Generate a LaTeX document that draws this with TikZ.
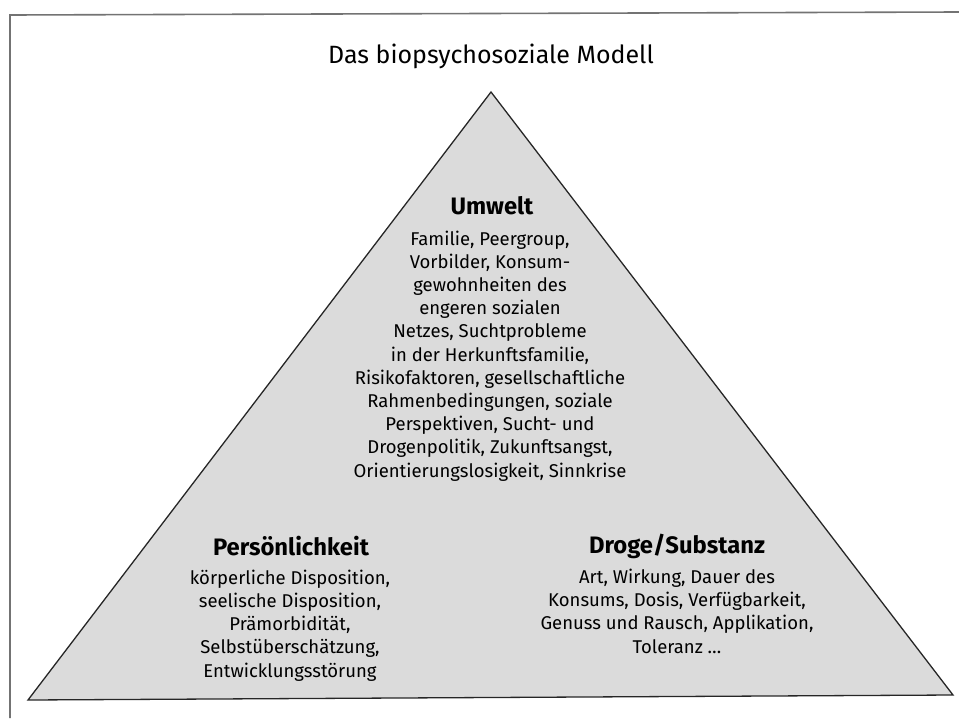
\documentclass[tikz,border=0pt]{standalone}
\usepackage{fontspec}
\setmainfont{Fira Sans}
\begin{document}
\begin{tikzpicture}[x=1pt,y=-1pt,
  frameline/.style={draw=black!55,line width=1.6pt},
  pyramid/.style={draw=black!85,line width=1.3pt,fill=black!14,line join=miter},
  titletext/.style={font=\fontsize{25}{30}\selectfont,anchor=base,inner sep=0pt},
  headtext/.style={font=\fontsize{23.8}{28}\selectfont\bfseries,anchor=base,inner sep=0pt},
  bodytext/.style={font=\fontsize{18.5}{23.2}\selectfont,align=center,anchor=base,inner sep=0pt}]
\useasboundingbox (0,0) rectangle (959,718);
% frame (left and top)
\coordinate (fbl) at (10,718);
\coordinate (ftl) at (10,15);
\coordinate (ftr) at (959,12);
\draw[frameline] (fbl) -- (ftl) -- (ftr);
% pyramid
\coordinate (apex) at (491,92);
\coordinate (bl) at (28,700);
\coordinate (br) at (953,695);
\draw[pyramid] (apex) -- (br) -- (bl) -- cycle;
% title
\node[titletext] (title) at (491,63) {Das biopsychosoziale Modell};
% Umwelt (body anchored at the baseline of its last line)
\node[headtext] (uh) at (492,214) {Umwelt};
\node[bodytext] (ub) at (490,477) {Familie, Peergroup,\\Vorbilder, Konsum-\\gewohnheiten des\\engeren sozialen\\Netzes, Suchtprobleme\\in der Herkunftsfamilie,\\Risikofaktoren, gesellschaftliche\\Rahmenbedingungen, soziale\\Perspektiven, Sucht- und\\Drogenpolitik, Zukunftsangst,\\Orientierungslosigkeit, Sinnkrise};
% Persoenlichkeit
\node[headtext] (ph) at (291,555) {Persönlichkeit};
\node[bodytext] (pb) at (290,677) {körperliche Disposition,\\seelische Disposition,\\Prämorbidität,\\Selbstüberschätzung,\\Entwicklungsstörung};
% Droge
\node[headtext] (dh) at (677,553) {Droge/Substanz};
\node[bodytext] (db) at (677,653) {Art, Wirkung, Dauer des\\Konsums, Dosis, Verfügbarkeit,\\Genuss und Rausch, Applikation,\\Toleranz \dots};
\end{tikzpicture}
\end{document}
